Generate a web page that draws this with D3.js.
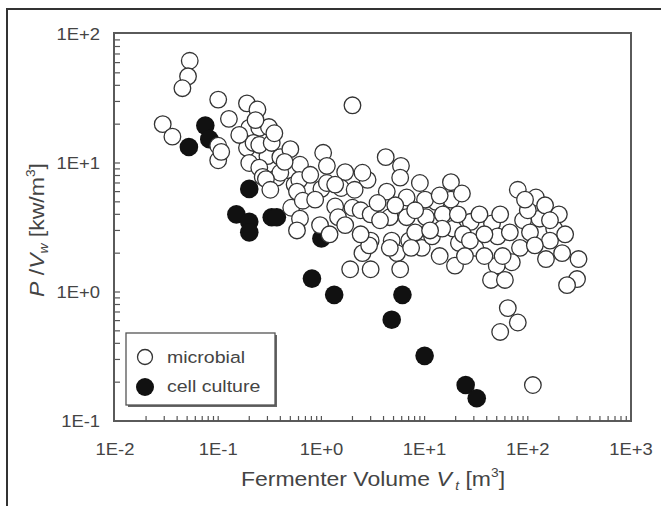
<!DOCTYPE html>
<html>
<head>
<meta charset="utf-8">
<script src="https://cdnjs.cloudflare.com/ajax/libs/d3/7.8.5/d3.min.js"></script>
<style>
	body { margin: 0; background: #fff; }
	svg { display: block; font-family: Arial, "Liberation Sans", sans-serif; }
</style>
</head>
<body>
<svg id="plot" width="661" height="506"></svg>
<script>

	// fermenter volume [m3] and power per volume [kW/m3]
	var microbialX = [0.053,0.051,0.045,0.029,0.036,0.10,0.127,0.10,0.10,0.107,0.19,0.24,0.20,0.25,0.31,0.19,0.22,0.20,0.30,0.25,
		0.27,0.40,0.50,0.47,0.37,0.55,0.51,2.0,0.62,1.04,1.13,1.7,1.0,0.61,2.8,4.2,5.9,5.8,9.0,4.3,
		6.7,18,18,23,12.9,1.36,2.0,0.62,0.58,0.97,1.45,2.4,3.0,4.6,6.7,10.3,15,19,28,31,
		3.0,4.8,7.1,9.4,14,2.5,5.4,1.9,3.0,5.8,45,80,120,90,130,180,200,51,84,70,
		50,150,215,310,44,300,240,64,80,54,112,0.40,0.29,1.13,2.5,11.8,14.8,21.5,8.1,4.6,
		7.4,2.9,0.25,0.33,0.58,23.6,38,57,100,147,105,164,0.66,1.55,3.5,10.1,21,67,
		0.23,0.16,0.35,0.44,0.32,0.78,0.87,1.36,2.1,1.7,1.2,3.7,5.2,8.1,14,11.3,27.5,38,34,54,
		94,164,117,230,60,19.7,24.6,2.4];
	var microbialY = [62,47,38,20,16,31,22,13.6,10.5,12.2,29,26,18.7,18.7,19,13.1,14.3,10,11.3,9.2,
		7.8,11.1,12.8,8.8,7.7,6.8,4.5,28,9.7,12,9.5,8.5,6.3,7.4,7.4,11.1,9.5,7.7,7.0,6.0,
		5.4,7.1,5.2,5.8,5.0,4.6,4.5,3.7,3.0,3.3,3.8,4.3,4.0,3.8,3.8,3.8,4.0,3.1,3.5,2.2,
		2.5,2.5,2.5,2.2,1.9,2.0,2.0,1.5,1.5,1.5,3.4,6.2,5.4,3.6,3.7,3.1,4.0,2.7,2.2,1.7,
		1.6,1.8,2.0,1.8,1.24,1.26,1.13,0.75,0.58,0.49,0.19,8.4,7.5,7.0,8.4,2.7,3.1,2.4,2.9,2.2,
		2.2,2.3,13.8,14.3,6.0,2.8,1.9,1.9,4.3,4.7,2.9,2.5,5.1,6.4,4.9,5.2,4.0,2.9,
		21.5,16.5,17,10.2,6.2,8.1,5.2,6.8,6.2,3.3,2.8,3.6,4.7,4.3,5.6,3.0,2.5,2.8,4.0,4.0,
		5.2,3.6,2.3,2.8,1.24,1.6,1.9,2.8];

	var cellX = [0.052,0.075,0.082,0.20,0.15,0.20,0.20,0.33,0.37,1.0,0.81,1.33,6.1,4.8,10,25,32];
	var cellY = [13.3,19.5,15.3,6.3,4.0,3.5,2.9,3.8,3.8,2.6,1.27,0.95,0.95,0.61,0.32,0.19,0.15];

	var xTicks = [1e-2,1e-1,1e0,1e1,1e2,1e3];
	var xTickLabels = ["1E-2","1E-1","1E+0","1E+1","1E+2","1E+3"];
	var yTicks = [1e-1,1e0,1e1,1e2];
	var yTickLabels = ["1E-1","1E+0","1E+1","1E+2"];

	var legendLabels = ["microbial","cell culture"];

	var svg = d3.select("#plot");
	var txtColor = "#444",
		stretch = 1.15;

	var x = d3.scaleLog().domain([1e-2,1e3]).range([115,631]),
		y = d3.scaleLog().domain([1e-1,1e2]).range([421,34]);

	// outer frame
	svg.append("rect")
		.attr("x",7).attr("y",9).attr("width",720).attr("height",600)
		.attr("fill","none").attr("stroke","#333").attr("stroke-width",2);

	// plot frame
	svg.append("rect")
		.attr("x",x(1e-2)-1).attr("y",y(1e2)-1)
		.attr("width",x(1e3)-x(1e-2)+1).attr("height",y(1e-1)-y(1e2)+1)
		.attr("fill","#fff").attr("stroke","#5a5a5a").attr("stroke-width",2);

	// minor + major ticks, pointing inside
	var xMinor = [], yMinor = [];
	xTicks.slice(0,-1).forEach(function(d){ for(var k=1;k<10;k++) xMinor.push(d*k); });
	yTicks.slice(0,-1).forEach(function(d){ for(var k=1;k<10;k++) yMinor.push(d*k); });

	svg.append("g").selectAll("line").data(xMinor.slice(1)).enter()
		.append("line")
		.attr("x1", function(d){ return x(d)}).attr("x2", function(d){ return x(d)})
		.attr("y1", y(1e-1)).attr("y2", y(1e-1)-5)
		.style("stroke","#555").style("stroke-width",1.2);

	svg.append("g").selectAll("line").data(yMinor.slice(1)).enter()
		.append("line")
		.attr("y1", function(d){ return y(d)}).attr("y2", function(d){ return y(d)})
		.attr("x1", x(1e-2)).attr("x2", x(1e-2)+5)
		.style("stroke","#555").style("stroke-width",1.2);

	function stretchedText(g, px, py, anchor, size){
		return g.append("text")
			.attr("transform","translate("+px+","+py+") scale("+stretch+",1)")
			.attr("text-anchor",anchor)
			.attr("font-size",size)
			.attr("fill",txtColor);
	}

	// tick labels
	xTicks.forEach(function(d,i){
		stretchedText(svg, x(d), 455, "middle", 16).text(xTickLabels[i]);
	});
	yTicks.forEach(function(d,i){
		stretchedText(svg, 100, y(d)+6, "end", 16).text(yTickLabels[i]);
	});

	// axis titles
	var xt = stretchedText(svg, 373, 486, "middle", 20);
	xt.append("tspan").text("Fermenter Volume ");
	xt.append("tspan").attr("font-style","italic").text("V");
	xt.append("tspan").attr("font-style","italic").attr("font-size",12).attr("dx",3).attr("dy",4).text("t");
	xt.append("tspan").attr("dy",-4).text(" [m");
	xt.append("tspan").attr("font-size",12).attr("dy",-9).text("3");
	xt.append("tspan").attr("dy",9).text("]");

	var yt = svg.append("text")
		.attr("transform","translate(44,230) rotate(-90) scale("+stretch+",1)")
		.attr("text-anchor","middle").attr("font-size",20).attr("fill",txtColor);
	yt.append("tspan").attr("font-style","italic").text("P");
	yt.append("tspan").text(" /");
	yt.append("tspan").attr("font-style","italic").text("V");
	yt.append("tspan").attr("font-style","italic").attr("font-size",12).attr("dy",4).text("w");
	yt.append("tspan").attr("dy",-4).text(" [kw/m");
	yt.append("tspan").attr("font-size",12).attr("dy",-9).text("3");
	yt.append("tspan").attr("dy",9).text("]");

	// data
	var cell = d3.zip(cellX, cellY),
		microbial = d3.zip(microbialX, microbialY);

	svg.append("g").selectAll("circle").data(cell).enter()
		.append("circle")
		.attr("r",9.3)
		.attr("cx", function(d){ return x(d[0])})
		.attr("cy", function(d){ return y(d[1])})
		.attr("fill","#111");

	svg.append("g").selectAll("circle").data(microbial).enter()
		.append("circle")
		.attr("r",8.3)
		.attr("cx", function(d){ return x(d[0])})
		.attr("cy", function(d){ return y(d[1])})
		.attr("fill","#fff")
		.attr("stroke","#333")
		.attr("stroke-width",1.3);

	// legend with drop shadow
	var lg = svg.append("g");
	lg.append("rect").attr("x",128).attr("y",335).attr("width",149).attr("height",72).attr("fill","#666");
	lg.append("rect").attr("x",126).attr("y",333).attr("width",149).attr("height",72)
		.attr("fill","#fff").attr("stroke","#555").attr("stroke-width",1.3);
	lg.append("circle").attr("cx",145).attr("cy",357).attr("r",7.5)
		.attr("fill","#fff").attr("stroke","#333").attr("stroke-width",1.3);
	lg.append("circle").attr("cx",145).attr("cy",387).attr("r",9)
		.attr("fill","#111");
	stretchedText(lg, 167, 363, "start", 17).text(legendLabels[0]);
	stretchedText(lg, 167, 392, "start", 17).text(legendLabels[1]);

</script>
</body>
</html>
